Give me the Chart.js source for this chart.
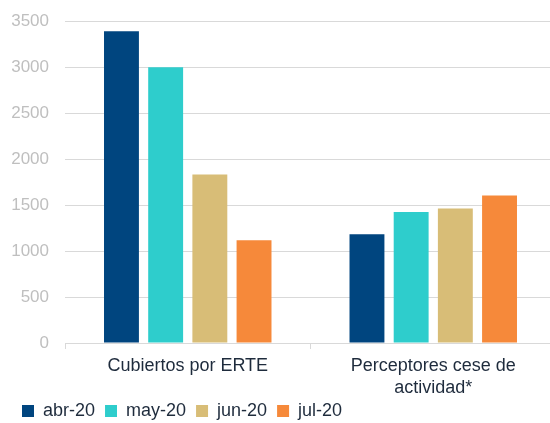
<!DOCTYPE html>
<html>
<head>
<meta charset="utf-8">
<script src="https://cdn.jsdelivr.net/npm/chart.js@4"></script>
<style>
  html, body { margin: 0; padding: 0; background: #fff; overflow: hidden; }
  #wrap { position: relative; top: -5px; width: 556px; height: 435px; }
</style>
</head>
<body>
<div id="wrap"><canvas id="grafico"></canvas></div>
<script>
// Datos
const categorias = [['Cubiertos por ERTE'], ['Perceptores cese de', 'actividad*']];
const series = ['abr-20', 'may-20', 'jun-20', 'jul-20'];
const abr20 = [3390, 1182];
const may20 = [3000, 1424];
const jun20 = [1833, 1464];
const jul20 = [1117, 1605];
const ticksY = [0, 500, 1000, 1500, 2000, 2500, 3000, 3500];

const colores = ['#00457f', '#2ecdcc', '#d8bd77', '#f6893a'];
const valores = [abr20, may20, jun20, jul20];

const ctx = document.getElementById('grafico').getContext('2d');
const chart = new Chart(ctx, {
    type: 'bar',
    data: {
        labels: categorias,
        datasets: series.map((s, i) => ({
            label: s,
            data: valores[i],
            backgroundColor: colores[i],
            categoryPercentage: 0.72,
            barPercentage: 0.79
        }))
    },
    options: {
        responsive: true,
        maintainAspectRatio: false,
        animation: false,
        devicePixelRatio: 1,
        layout: { padding: { left: 12, right: 0, top: 4, bottom: 0 } },
        plugins: {
            legend: {
                position: 'bottom',
                align: 'start',
                labels: {
                    boxWidth: 12,
                    boxHeight: 12,
                    padding: 10,
                    color: '#1e2b3c',
                    font: { family: 'Liberation Sans', size: 18 }
                }
            },
            tooltip: { enabled: false }
        },
        scales: {
            x: {
                grid: { drawOnChartArea: false, tickLength: 6, color: '#d9d9d9' },
                border: { color: '#d9d9d9' },
                ticks: {
                    color: '#1e2b3c',
                    padding: 7,
                    font: { family: 'Liberation Sans', size: 18, lineHeight: 1.17 }
                },
                afterFit: s => {
                    s.height = 49;
                    // que la segunda línea de la etiqueta no se recorte
                    s._computeLabelArea = () => undefined;
                }
            },
            y: {
                min: 0,
                max: 3500,
                afterBuildTicks: s => { s.ticks = ticksY.map(v => ({ value: v })); },
                grid: { color: '#d9d9d9', drawTicks: false },
                border: { display: false },
                ticks: {
                    color: '#bfbfbf',
                    padding: 16,
                    font: { family: 'Liberation Sans', size: 17 },
                    callback: v => String(v)
                },
                afterFit: s => { s.width = 53; }
            }
        }
    }
});
</script>
</body>
</html>
